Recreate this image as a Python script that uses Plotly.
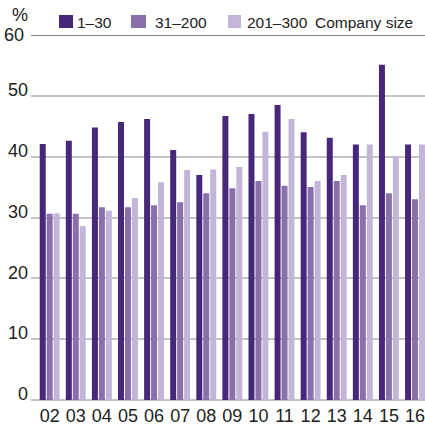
import plotly.graph_objects as go

years = ["02", "03", "04", "05", "06", "07", "08", "09", "10", "11", "12", "13", "14", "15", "16"]
series_names = ["1–30", "31–200", "201–300"]
size_1_30 = [42.1, 42.6, 44.8, 45.7, 46.2, 41.1, 37.0, 46.7, 47.0, 48.5, 44.0, 43.1, 42.0, 55.1, 42.0]
size_31_200 = [30.6, 30.6, 31.7, 31.7, 32.0, 32.5, 34.0, 34.8, 36.0, 35.2, 35.0, 36.0, 32.0, 34.0, 33.0]
size_201_300 = [30.7, 28.6, 31.1, 33.2, 35.8, 37.8, 37.9, 38.3, 44.1, 46.2, 36.0, 37.0, 42.0, 40.0, 42.0]
y_ticks = [0, 10, 20, 30, 40, 50]
y_top_tick = [60]
colors = ["#46277a", "#8a70aa", "#c3b5d7"]

W, H = 425, 426
L, R, T, B = 31, 0, 35, 26
pw, ph = W - L - R, H - T - B

def px_x(x):
    return (x - L) / pw

def px_y(y):
    return (H - B - y) / ph

fig = go.Figure()
for name, vals, col in zip(series_names, [size_1_30, size_31_200, size_201_300], colors):
    fig.add_trace(go.Bar(x=years, y=vals, name=name, marker=dict(color=col, line=dict(width=0))))
# invisible helper trace to anchor the second y axis (top tick label)
fig.add_trace(go.Scatter(x=[years[0]], y=[None], yaxis="y2", showlegend=False, hoverinfo="skip"))

font_fam = "Liberation Sans, Arial, sans-serif"

shapes = [
    dict(type="line", xref="paper", yref="y", x0=0, x1=1, y0=60, y1=60,
         line=dict(color="#555555", width=1.5), layer="above"),
]
annotations = [
    dict(text="%", xref="paper", yref="paper", x=px_x(20), y=px_y(15), showarrow=False,
         font=dict(size=18, color="#222222", family=font_fam), xanchor="center", yanchor="middle"),
]
sq = [(59, 73), (131, 146), (228, 241)]
tx = [75, 153, 245]
for (x0, x1), t, name, col in zip(sq, tx, series_names, colors):
    shapes.append(dict(type="rect", xref="paper", yref="paper", x0=px_x(x0), x1=px_x(x1),
                       y0=px_y(28), y1=px_y(15), fillcolor=col, line=dict(width=0)))
    annotations.append(dict(text=name, xref="paper", yref="paper", x=px_x(t), y=px_y(22),
                            showarrow=False, xanchor="left", yanchor="middle",
                            font=dict(size=15.5, color="#222222", family=font_fam)))
annotations.append(dict(text="Company size", xref="paper", yref="paper", x=px_x(313), y=px_y(22),
                        showarrow=False, xanchor="left", yanchor="middle",
                        font=dict(size=15.5, color="#222222", family=font_fam)))

fig.update_layout(
    width=W, height=H,
    margin=dict(l=L, r=R, t=T, b=B, pad=0),
    paper_bgcolor="white", plot_bgcolor="white",
    barmode="group", bargap=0.2, bargroupgap=0.14,
    showlegend=False,
    font=dict(family=font_fam, color="#222222"),
    shapes=shapes, annotations=annotations,
    xaxis=dict(type="category", range=[-0.716, 14.383], showgrid=False, showline=False,
               ticks="", ticklabelstandoff=3, tickfont=dict(size=18, color="#222222"), fixedrange=True),
    yaxis=dict(range=[0, 60], tickvals=y_ticks, showgrid=True, gridcolor="#c4c4c4", gridwidth=1.5,
               zeroline=True, zerolinecolor="#c4c4c4", zerolinewidth=1.5, showline=False,
               ticks="", ticklabelstandoff=2, ticklabelshift=-6,
               tickfont=dict(size=18, color="#222222"), fixedrange=True),
    yaxis2=dict(range=[0, 60], tickvals=y_top_tick, overlaying="y", side="left", showgrid=False,
                zeroline=False, showline=False, ticks="", ticklabelstandoff=6,
                tickfont=dict(size=18, color="#222222"), fixedrange=True),
)

fig.write_html("out.html")
